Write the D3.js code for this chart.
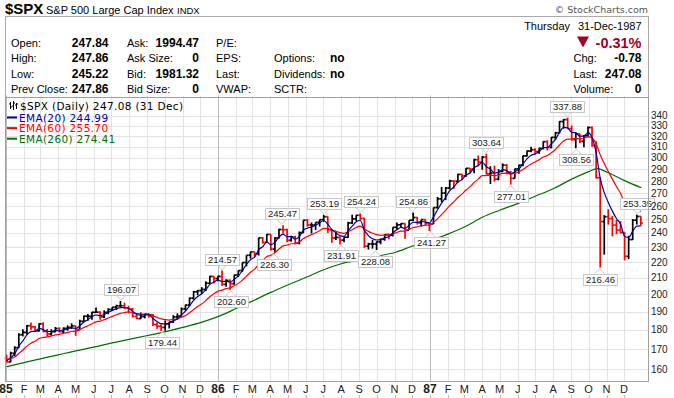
<!DOCTYPE html>
<html>
<head>
<meta charset="utf-8">
<script src="https://cdn.jsdelivr.net/npm/d3@7"></script>
<style>
  body { margin: 0; background: #fff; }
  svg { display: block; font-family: "Liberation Sans", Arial, sans-serif; }
</style>
</head>
<body>
<svg id="chart" width="674" height="398"></svg>
<script>
// weekly bars, first week starts Mon 31-Dec-1984
var firstMonday = new Date(1984, 11, 31);
var firstOpen = 165.4;

var weekHigh = [
  // 1985
  167.2,168.7,171.4,178.2,180.3,182.6,183.9,182.0,183.5,184.1,180.5,180.3,181.5,181.3,181.3,182.4,183.5,182.1,185.5,187.8,188.6,189.9,192.3,190.2,190.7,191.9,
  192.5,193.9,196.1,195.1,193.3,192.1,188.5,189.5,188.8,189.0,188.6,184.0,183.0,185.0,184.3,188.0,189.0,192.4,194.0,198.1,202.0,202.5,204.3,207.9,211.3,211.0,
  // 1986
  211.3,214.6,209.1,209.0,212.0,214.7,219.8,224.6,227.0,226.9,236.6,237.0,239.1,239.0,237.0,243.0,245.5,243.0,238.0,238.0,241.0,249.2,250.0,247.5,247.6,249.6,
  253.2,252.0,242.5,241.0,237.5,237.0,248.0,253.3,253.0,254.2,251.0,233.0,235.0,234.0,236.0,239.0,239.5,244.0,247.5,247.0,247.0,249.2,254.9,251.5,249.7,249.8,
  // 1987
  247.0,258.8,267.0,275.0,275.0,281.0,280.5,286.0,286.0,291.0,291.0,299.0,302.0,301.5,303.6,292.5,293.0,290.0,295.0,294.5,288.5,290.5,293.5,302.0,306.5,310.0,
  308.5,309.0,315.0,316.0,319.0,324.0,334.5,336.5,337.9,330.0,323.5,322.0,321.0,329.0,329.0,315.0,283.0,253.0,257.5,252.5,249.5,248.5,240.5,238.0,250.0,253.4,252.2
];
var weekLow = [
  163.4,163.4,166.5,170.5,176.5,177.5,179.9,178.8,179.1,178.9,176.5,176.9,178.7,178.6,178.3,179.5,180.5,176.8,179.9,184.3,184.9,185.5,189.3,185.5,186.4,188.5,
  190.5,190.9,192.8,191.6,189.1,186.8,185.9,185.8,186.2,186.5,182.1,180.6,179.4,179.5,180.7,183.7,185.5,187.2,190.6,193.0,196.9,199.4,200.2,201.9,206.2,206.5,
  207.9,205.0,204.5,202.6,205.8,210.5,213.9,217.3,222.4,223.5,224.4,232.5,232.9,227.8,226.3,236.0,239.5,233.5,233.8,232.0,232.0,240.0,244.5,239.6,242.0,244.5,
  248.0,240.0,233.0,235.0,231.9,233.5,236.5,246.5,248.5,249.5,229.5,228.4,229.0,228.1,232.0,234.5,235.5,237.5,242.5,243.5,235.9,242.0,248.5,246.0,244.5,245.5,
  241.3,246.4,258.0,263.0,264.5,273.0,273.5,278.5,280.5,283.5,286.0,286.5,292.5,289.5,285.5,277.5,279.5,280.5,287.5,285.5,277.0,282.0,286.0,292.5,301.0,305.0,
  302.5,303.5,307.5,306.5,308.5,316.5,322.5,327.0,327.0,315.5,308.6,313.5,309.5,318.5,310.0,282.0,216.5,225.0,246.0,237.5,239.0,239.5,221.2,222.0,235.0,246.0,245.2
];
var weekClose = [
  163.7,167.9,170.7,177.4,178.6,182.2,181.6,179.4,183.2,179.1,177.8,179.0,180.7,179.0,180.8,181.3,182.1,180.1,184.6,187.4,187.4,189.6,189.7,187.1,189.6,191.2,
  192.5,193.3,193.3,192.1,191.5,187.3,186.1,187.2,188.6,188.2,182.9,182.0,181.3,183.2,184.3,187.0,187.5,191.5,193.7,197.7,201.5,202.2,202.9,206.7,210.9,209.6,
  210.9,206.0,208.4,206.4,211.8,214.6,219.8,224.6,226.9,225.6,236.5,233.3,238.9,228.7,236.4,242.4,242.3,234.8,237.1,232.8,240.1,249.2,245.7,245.7,247.6,249.6,
  251.8,242.2,236.4,236.8,234.9,236.9,247.2,250.2,252.9,250.5,230.7,232.2,232.2,233.7,235.5,238.8,238.3,244.0,245.8,246.7,242.0,249.2,251.2,247.3,249.7,246.8,
  246.5,258.7,265.5,270.1,274.1,280.0,279.7,285.5,284.2,290.7,289.9,298.2,296.1,300.5,286.0,286.7,281.5,288.0,293.4,287.4,282.2,290.1,293.5,301.6,306.0,307.2,
  305.6,308.4,314.6,309.3,318.7,323.0,334.0,335.9,327.0,316.7,322.0,314.9,320.2,328.1,311.1,282.7,248.2,251.8,250.4,245.6,242.0,240.3,223.9,235.3,249.2,252.0,247.1
];

// moving averages, one value per weekly bar
var ema20 = [
  164.2,165.6,167.6,171.4,174.2,177.3,179.0,179.2,180.8,180.1,179.2,179.1,179.7,179.4,180.0,180.5,181.1,180.7,182.2,184.2,185.5,187.1,188.1,187.7,188.4,189.5,
  190.7,191.7,192.3,192.2,191.9,190.1,188.5,188.0,188.2,188.2,186.1,184.5,183.3,183.2,183.6,184.9,185.9,188.1,190.3,193.2,196.4,198.7,200.3,202.8,206.0,207.4,
  208.8,207.7,208.0,207.4,209.1,211.2,214.6,218.5,221.8,223.3,228.4,230.3,233.7,231.7,233.5,237.0,239.1,237.4,237.3,235.5,237.3,241.9,243.4,244.3,245.6,247.2,
  249.0,246.3,242.4,240.2,238.1,237.6,241.4,244.8,248.0,249.0,241.9,238.1,235.8,235.0,235.2,236.6,237.3,239.9,242.2,244.0,243.2,245.5,247.7,247.6,248.4,247.8,
  247.3,251.7,257.1,262.2,266.8,272.0,275.0,279.1,281.1,284.8,286.8,291.2,293.1,296.0,292.1,290.0,286.7,287.2,289.6,288.7,286.2,287.7,290.0,294.5,299.0,302.2,
  303.5,305.4,309.0,309.1,312.8,316.8,323.5,328.3,327.8,323.5,322.9,319.8,319.9,323.1,318.4,304.5,282.5,270.5,262.7,256.0,250.5,246.5,237.7,236.8,241.2,244.8,245.0
];
var ema60 = [
  164.8,165.3,166.1,167.8,169.5,171.5,173.0,174.0,175.4,176.0,176.3,176.7,177.3,177.6,178.1,178.6,179.1,179.3,180.1,181.2,182.2,183.3,184.3,184.7,185.5,186.4,
  187.3,188.2,189.0,189.5,189.8,189.4,188.9,188.6,188.6,188.5,187.6,186.8,185.9,185.5,185.3,185.6,185.9,186.8,187.8,189.3,191.2,192.9,194.4,196.3,198.6,200.3,
  201.9,202.5,203.4,203.9,205.1,206.6,208.6,211.1,213.5,215.4,218.6,220.9,223.7,224.5,226.3,228.8,230.9,231.5,232.4,232.4,233.6,236.0,237.5,238.8,240.1,241.6,
  243.2,243.0,242.0,241.2,240.2,239.7,240.9,242.3,243.9,244.9,242.7,241.1,239.7,238.8,238.3,238.4,238.4,239.3,240.3,241.2,241.4,242.6,243.9,244.4,245.2,245.5,
  245.6,247.6,250.4,253.4,256.6,260.2,263.2,266.6,269.3,272.6,275.3,278.8,281.5,284.4,284.6,284.9,284.4,285.0,286.3,286.5,285.8,286.5,287.6,289.7,292.2,294.5,
  296.2,298.1,300.6,302.0,304.5,307.4,311.5,315.3,317.1,317.0,317.8,317.3,317.8,319.4,318.1,312.6,302.7,294.9,288.0,281.5,275.4,270.0,262.9,258.7,257.4,256.6,255.7
];
var ema260Dates = [
  "1985-01-02","1985-02-01","1985-03-01","1985-04-01","1985-05-01","1985-06-03","1985-07-01","1985-08-01","1985-09-02","1985-10-01","1985-11-01","1985-12-02",
  "1986-01-02","1986-02-03","1986-03-03","1986-04-01","1986-05-01","1986-06-02","1986-07-01","1986-08-01","1986-09-02","1986-10-01","1986-11-03","1986-12-01",
  "1987-01-02","1987-02-02","1987-03-02","1987-04-01","1987-05-01","1987-06-01","1987-07-01","1987-08-03","1987-09-01","1987-10-01","1987-10-16","1987-11-02",
  "1987-12-01","1987-12-31"
];
var ema260 = [
  161.3,163.3,165.1,167.1,169.1,171.1,173.0,175.0,177.0,178.9,181.3,183.9,
  187.3,192.0,196.3,201.0,205.6,210.4,215.0,219.0,221.5,223.9,226.6,230.7,
  234.6,239.3,244.4,251.4,256.7,261.8,267.6,274.0,281.3,287.9,290.5,287.3,
  280.5,274.4
];

// peak / trough annotations
var noteDates  = ["1985-07-18","1985-09-27","1986-01-08","1986-01-23","1986-04-07","1986-04-21","1986-07-02","1986-08-01","1986-09-04",
                  "1986-09-29","1986-12-02","1987-01-02","1987-04-07","1987-05-20","1987-08-25","1987-09-10","1987-10-20","1987-12-24"];
var noteValues = [196.07,179.44,214.57,202.60,226.30,245.47,253.19,231.91,254.24,228.08,254.86,241.27,303.64,277.01,337.88,308.56,216.46,253.35];
var noteSide   = ["up","down","up","down","down","up","up","down","up","down","up","down","up","down","up","down","down","up"];

var yTicks = [160,170,180,190,200,210,220,230,240,250,260,270,280,290,300,310,320,330,340];
var monthLetters = ["J","F","M","A","M","J","J","A","S","O","N","D"];
var yearLabels = {1985: "85", 1986: "86", 1987: "87"};

var legendNames  = ["EMA(20) 244.99", "EMA(60) 255.70", "EMA(260) 274.41"];
var legendColors = ["#0000a8", "#ff0000", "#007000"];

var quoteLeft = [
  ["Open:", "247.84", "Ask:", "1994.47", "P/E:", "", ""],
  ["High:", "247.86", "Ask Size:", "0", "EPS:", "Options:", "no"],
  ["Low:", "245.22", "Bid:", "1981.32", "Last:", "Dividends:", "no"],
  ["Prev Close:", "247.86", "Bid Size:", "0", "VWAP:", "SCTR:", ""]
];
var quoteRight = [["Chg:", "-0.78"], ["Last:", "247.08"], ["Volume:", "0"]];

var parse = d3.timeParse("%Y-%m-%d");
var svg = d3.select("#chart");
var plot = {left: 5.5, right: 648.5, top: 97.5, bottom: 381.5};

var x = d3.scaleTime()
  .domain([new Date(1985, 0, 1), new Date(1988, 0, 1)])
  .range([6, 642]);
var y = d3.scaleLog()
  .domain([154.4, 358.7])
  .range([plot.bottom, plot.top]);

var weeks = weekClose.map(function(c, i) {
  return {
    date: d3.timeDay.offset(firstMonday, 7 * i + 2),
    open: i === 0 ? firstOpen : weekClose[i - 1],
    high: weekHigh[i], low: weekLow[i], close: c,
    e20: ema20[i], e60: ema60[i]
  };
});

///////////////////////////////////////////////////////////////////////////
// header box
svg.append("text").attr("x", 5).attr("y", 14)
  .style("font-size", "15px").style("font-weight", "bold").text("$SPX");
svg.append("text").attr("x", 46).attr("y", 13.5)
  .style("font-size", "11px").text("S&P 500 Large Cap Index");
svg.append("text").attr("x", 177).attr("y", 13.5)
  .style("font-size", "9.5px").text("INDX");
svg.append("text").attr("x", 648).attr("y", 13).attr("text-anchor", "end")
  .style("font-family", "'DejaVu Sans', sans-serif").style("font-size", "9.5px")
  .attr("fill", "#555").text("\u00a9 StockCharts.com");

svg.append("rect")
  .attr("x", 5.5).attr("y", 16.5).attr("width", 643).attr("height", 81)
  .attr("fill", "none").attr("stroke", "#aaa");

var rowY = [47, 62, 77.5, 93];
quoteLeft.forEach(function(r, i) {
  var g = svg.append("g").attr("transform", "translate(0," + rowY[i] + ")").style("font-size", "11px");
  g.append("text").attr("x", 11).text(r[0]);
  g.append("text").attr("x", 108.5).attr("text-anchor", "end")
    .style("font-size", "12px").style("font-weight", "bold").text(r[1]);
  g.append("text").attr("x", 127).text(r[2]);
  g.append("text").attr("x", 199).attr("text-anchor", "end")
    .style("font-size", "12px").style("font-weight", "bold").text(r[3]);
  g.append("text").attr("x", 216).text(r[4]);
  g.append("text").attr("x", 274).text(r[5]);
  g.append("text").attr("x", 330).style("font-size", "12px").style("font-weight", "bold").text(r[6]);
});

svg.append("text").attr("x", 570).attr("y", 30).attr("text-anchor", "end")
  .style("font-size", "11px").text("Thursday");
svg.append("text").attr("x", 641.5).attr("y", 30).attr("text-anchor", "end")
  .style("font-size", "11px").text("31-Dec-1987");
svg.append("path").attr("d", "M577,36.5L589,36.5L583,47.5Z").attr("fill", "#a3001e");
svg.append("text").attr("x", 641.5).attr("y", 47.5).attr("text-anchor", "end")
  .style("font-size", "14.5px").style("font-weight", "bold").attr("fill", "#a3001e").text("-0.31%");
quoteRight.forEach(function(r, i) {
  var g = svg.append("g").attr("transform", "translate(0," + rowY[i + 1] + ")");
  g.append("text").attr("x", 573.5).style("font-size", "11px").text(r[0]);
  g.append("text").attr("x", 641.5).attr("text-anchor", "end")
    .style("font-size", "12px").style("font-weight", "bold").text(r[1]);
});

///////////////////////////////////////////////////////////////////////////
// grid
var months = d3.timeMonth.range(new Date(1985, 0, 1), new Date(1988, 0, 1));
var grid = svg.append("g");
grid.selectAll(".hg").data(yTicks).enter().append("line")
  .attr("x1", plot.left).attr("x2", plot.right)
  .attr("y1", function(d) { return Math.round(y(d)) + 0.5; })
  .attr("y2", function(d) { return Math.round(y(d)) + 0.5; })
  .attr("stroke", "#e3e3e3");
grid.selectAll(".vg").data(months).enter().append("line")
  .attr("x1", function(d) { return Math.round(x(d)) + 0.5; })
  .attr("x2", function(d) { return Math.round(x(d)) + 0.5; })
  .attr("y1", plot.top - 2).attr("y2", plot.bottom)
  .attr("stroke", function(d) { return d.getMonth() === 0 ? "#bcbcbc" : "#e3e3e3"; });

///////////////////////////////////////////////////////////////////////////
// price bars
var bars = svg.append("g").attr("stroke-width", 1.7);
var barColor = function(d) { return d.close >= d.open ? "#000" : "#ff0000"; };
bars.selectAll(".hl").data(weeks).enter().append("line")
  .attr("x1", function(d) { return x(d.date); })
  .attr("x2", function(d) { return x(d.date); })
  .attr("y1", function(d) { return y(d.high); })
  .attr("y2", function(d) { return y(d.low); })
  .attr("stroke", barColor);
bars.selectAll(".op").data(weeks).enter().append("line")
  .attr("x1", function(d) { return x(d.date) - 2; })
  .attr("x2", function(d) { return x(d.date); })
  .attr("y1", function(d) { return y(d.open); })
  .attr("y2", function(d) { return y(d.open); })
  .attr("stroke", barColor);
bars.selectAll(".cl").data(weeks).enter().append("line")
  .attr("x1", function(d) { return x(d.date); })
  .attr("x2", function(d) { return x(d.date) + 2; })
  .attr("y1", function(d) { return y(d.close); })
  .attr("y2", function(d) { return y(d.close); })
  .attr("stroke", barColor);

///////////////////////////////////////////////////////////////////////////
// moving averages
var longEma = ema260Dates.map(function(d, i) { return {date: parse(d), v: ema260[i]}; });
var line = d3.line().curve(d3.curveMonotoneX)
  .x(function(d) { return x(d.date); })
  .y(function(d) { return y(d.v); });

svg.append("path").datum(longEma).attr("d", line)
  .attr("fill", "none").attr("stroke", legendColors[2]).attr("stroke-width", 1.2);
svg.append("path").datum(weeks.map(function(d) { return {date: d.date, v: d.e60}; })).attr("d", line)
  .attr("fill", "none").attr("stroke", legendColors[1]).attr("stroke-width", 1.2);
svg.append("path").datum(weeks.map(function(d) { return {date: d.date, v: d.e20}; })).attr("d", line)
  .attr("fill", "none").attr("stroke", legendColors[0]).attr("stroke-width", 1.2);

///////////////////////////////////////////////////////////////////////////
// annotations
var notes = svg.append("g").style("font-size", "9.5px");
noteDates.forEach(function(d, i) {
  var cx = x(parse(d)), py = y(noteValues[i]);
  var up = noteSide[i] === "up";
  var g = notes.append("g");
  var t = g.append("text").attr("text-anchor", "middle").attr("fill", "#222")
    .text(noteValues[i].toFixed(2));
  var w = t.node().getComputedTextLength() + 5, h = 11;
  var by = up ? py - 6 - h : py + 6;
  g.insert("path", "text")
    .attr("d", up
      ? "M" + (cx - 5) + "," + (by + h) + "L" + cx + "," + (py - 1) + "L" + (cx + 5) + "," + (by + h)
      : "M" + (cx - 5) + "," + by + "L" + cx + "," + (py + 1) + "L" + (cx + 5) + "," + by)
    .attr("fill", "#fff").attr("stroke", "#c8c8c8");
  g.insert("rect", "text")
    .attr("x", Math.round(cx - w / 2) + 0.5).attr("y", Math.round(by) + 0.5)
    .attr("width", Math.round(w)).attr("height", h)
    .attr("fill", "#fff").attr("stroke", "#c8c8c8");
  t.attr("x", Math.round(cx) + 0.5).attr("y", Math.round(by) + 9);
});

///////////////////////////////////////////////////////////////////////////
// legend
var leg = svg.append("g").style("font-family", "'DejaVu Sans', sans-serif")
  .style("font-size", "10.5px").style("letter-spacing", "0.35px");
var icon = leg.append("g").attr("stroke", "#000").attr("stroke-width", 1);
[[10.5, 102, 109, 104, 107], [13.5, 101, 110, 106, 103], [16.5, 103, 109, 105, 104]].forEach(function(b) {
  icon.append("line").attr("x1", b[0]).attr("x2", b[0]).attr("y1", b[1]).attr("y2", b[2]);
  icon.append("line").attr("x1", b[0] - 1.5).attr("x2", b[0]).attr("y1", b[3]).attr("y2", b[3]);
  icon.append("line").attr("x1", b[0]).attr("x2", b[0] + 1.5).attr("y1", b[4]).attr("y2", b[4]);
});
leg.append("text").attr("x", 20).attr("y", 110).text("$SPX (Daily) 247.08 (31 Dec)");
legendNames.forEach(function(n, i) {
  var ly = 117.5 + i * 10.6;
  leg.append("line").attr("x1", 7).attr("x2", 17).attr("y1", ly).attr("y2", ly)
    .attr("stroke", legendColors[i]).attr("stroke-width", 2);
  leg.append("text").attr("x", 19).attr("y", ly + 4).attr("fill", legendColors[i]).text(n);
});

///////////////////////////////////////////////////////////////////////////
// frame and axes
svg.append("rect")
  .attr("x", plot.left).attr("y", plot.top)
  .attr("width", plot.right - plot.left).attr("height", plot.bottom - plot.top)
  .attr("fill", "none").attr("stroke", "#a0a0a0");

svg.append("g").selectAll("text").data(yTicks).enter().append("text")
  .attr("x", 651).attr("y", function(d) { return y(d) + 3.6; })
  .style("font-size", "10px").attr("fill", "#222")
  .text(function(d) { return d; });

var xl = svg.append("g");
xl.selectAll("text").data(months).enter().append("text")
  .attr("x", function(d) { return x(d); })
  .attr("y", 393)
  .attr("text-anchor", "middle")
  .style("font-size", function(d) { return d.getMonth() === 0 ? "12px" : "11px"; })
  .style("font-weight", function(d) { return d.getMonth() === 0 ? "bold" : "normal"; })
  .attr("fill", "#222")
  .text(function(d) { return d.getMonth() === 0 ? yearLabels[d.getFullYear()] : monthLetters[d.getMonth()]; });
xl.selectAll("line").data(months).enter().append("line")
  .attr("x1", function(d) { return Math.round(x(d)) + 0.5; })
  .attr("x2", function(d) { return Math.round(x(d)) + 0.5; })
  .attr("y1", 395).attr("y2", 398).attr("stroke", "#bbb");
</script>
</body>
</html>
